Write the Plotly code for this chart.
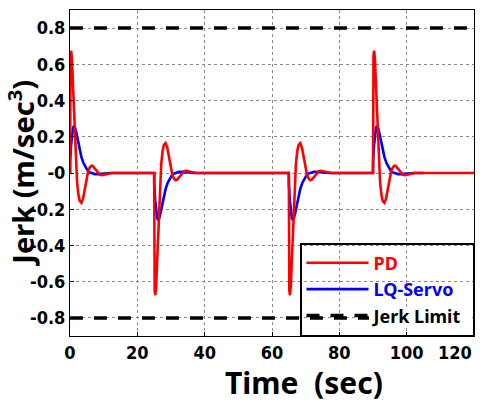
import plotly.graph_objects as go

# ---- data ----
event_times = [0, 25, 65, 90]
event_signs = [1, -1, -1, 1]

# PD jerk response after each event (offset seconds, value for a positive event)
pd_dt = [0.0, 0.02, 0.15, 0.35, 0.6, 0.9, 1.2, 1.5, 1.8, 2.1, 2.5, 2.9, 3.4, 3.9, 4.4,
         4.9, 5.4, 5.9, 6.4, 6.8, 7.3, 7.8, 8.3, 8.9, 9.5, 10.0, 10.7, 11.5, 12.5]
pd_val = [0.0, 0.55, 0.65, 0.675, 0.62, 0.48, 0.32, 0.17, 0.04, -0.05, -0.12, -0.155, -0.165, -0.14, -0.09,
          -0.03, 0.01, 0.032, 0.04, 0.038, 0.026, 0.01, -0.002, -0.01, -0.012, -0.01, -0.005, -0.002, 0.0]

# LQ-Servo jerk response after each event
lq_dt = [0.0, 0.02, 0.3, 0.6, 0.9, 1.2, 1.5, 1.9, 2.4, 2.9, 3.4, 4.0, 4.6, 5.2, 5.9,
         6.6, 7.4, 8.4, 9.5, 10.8, 12.0]
lq_val = [0.0, 0.06, 0.15, 0.22, 0.25, 0.26, 0.25, 0.22, 0.17, 0.125, 0.088, 0.055, 0.03, 0.014, 0.003,
          -0.003, -0.006, -0.006, -0.004, -0.001, 0.0]

pd_end = 120
lq_end = 105
jerk_limit = 0.8

x_ticks = [0, 20, 40, 60, 80, 100, 120]
x_tick_text = ["0", "20", "40", "60", "80", "100", ""]   # last label drawn shifted inward below
y_ticks = [0.8, 0.6, 0.4, 0.2, 0, -0.2, -0.4, -0.6, -0.8]
y_tick_text = ["0.8", "0.6", "0.4", "0.2", "-0", "-0.2", "-0.4", "-0.6", "-0.8"]


def build(dts, vals, end):
    t, v = [], []
    for t0, s in zip(event_times, event_signs):
        for d, val in zip(dts, vals):
            t.append(t0 + d)
            v.append(s * val)
    t.append(end)
    v.append(0.0)
    return t, v


pd_t, pd_v = build(pd_dt, pd_val, pd_end)
lq_t, lq_v = build(lq_dt, lq_val, lq_end)

tick_font = dict(family="DejaVu Sans Condensed, Liberation Sans Narrow, DejaVu Sans", size=18,
                 color="black", weight=700)
title_font = dict(family="Noto Sans, Open Sans, DejaVu Sans", size=29, color="black", weight=700)
pad = "\u00a0"

fig = go.Figure()
fig.add_trace(go.Scatter(x=lq_t, y=lq_v, mode="lines", line=dict(color="#0000ff", width=2.6),
                         name='<span style="color:#0000ff">LQ-Servo</span>' + pad, legendrank=2))
fig.add_trace(go.Scatter(x=pd_t, y=pd_v, mode="lines", line=dict(color="#ff0000", width=2.6),
                         name='<span style="color:#ff0000">PD</span>', legendrank=1))
fig.add_trace(go.Scatter(x=[0, 120, None, 0, 120],
                         y=[jerk_limit, jerk_limit, None, -jerk_limit, -jerk_limit],
                         mode="lines", line=dict(color="black", width=3.5, dash="13px,11px"),
                         name="Jerk Limit" + pad, legendrank=3))

fig.update_layout(
    width=487, height=401,
    margin=dict(l=70, r=13, t=10, b=65, autoexpand=False),
    paper_bgcolor="white", plot_bgcolor="white",
    showlegend=True,
    legend=dict(x=1.0, y=0.0, xanchor="right", yanchor="bottom",
                bgcolor="rgba(0,0,0,0)", bordercolor="black", borderwidth=1.5,
                font=dict(family="Noto Sans, Open Sans, DejaVu Sans", size=18, color="black", weight=700),
                itemwidth=62, tracegroupgap=0),
    shapes=[
        # white patch behind the "Jerk Limit" legend text (the legend covers the limit line there)
        dict(type="rect", xref="paper", yref="paper", layer="above",
             x0=0.74, x1=0.995, y0=0.03, y1=0.085, fillcolor="white", line=dict(width=0)),
    ],
    annotations=[
        dict(text="Jerk (m/sec<sup>3</sup>)", xref="paper", yref="paper",
             x=-0.122, y=0.50, xanchor="center", yanchor="middle", textangle=-90,
             height=40, showarrow=False, font=title_font),
        dict(text="Time\u00a0 (sec)", xref="paper", yref="paper",
             x=0.58, y=-0.14, xanchor="center", yanchor="middle", height=36,
             showarrow=False, font=dict(title_font, size=30)),
        dict(text=str(x_ticks[-1]), xref="x", yref="paper", x=x_ticks[-1], y=0,
             xanchor="right", yanchor="top", yshift=-4,
             showarrow=False, font=tick_font),
    ],
)

fig.update_xaxes(range=[0, 120], tickvals=x_ticks, ticktext=x_tick_text,
                 tickfont=tick_font, showgrid=True, gridcolor="#8a8a8a", griddash="dot", gridwidth=1,
                 showline=True, linecolor="black", linewidth=1, mirror=True,
                 ticks="inside", ticklen=4, tickcolor="black", zeroline=False, automargin=False)
fig.update_yaxes(range=[-0.9, 0.9], tickvals=y_ticks, ticktext=y_tick_text,
                 tickfont=tick_font, showgrid=True, gridcolor="#8a8a8a", griddash="dot", gridwidth=1,
                 showline=True, linecolor="black", linewidth=1, mirror=True,
                 ticks="inside", ticklen=4, tickcolor="black", zeroline=False, automargin=False)

fig.write_html("out.html")
